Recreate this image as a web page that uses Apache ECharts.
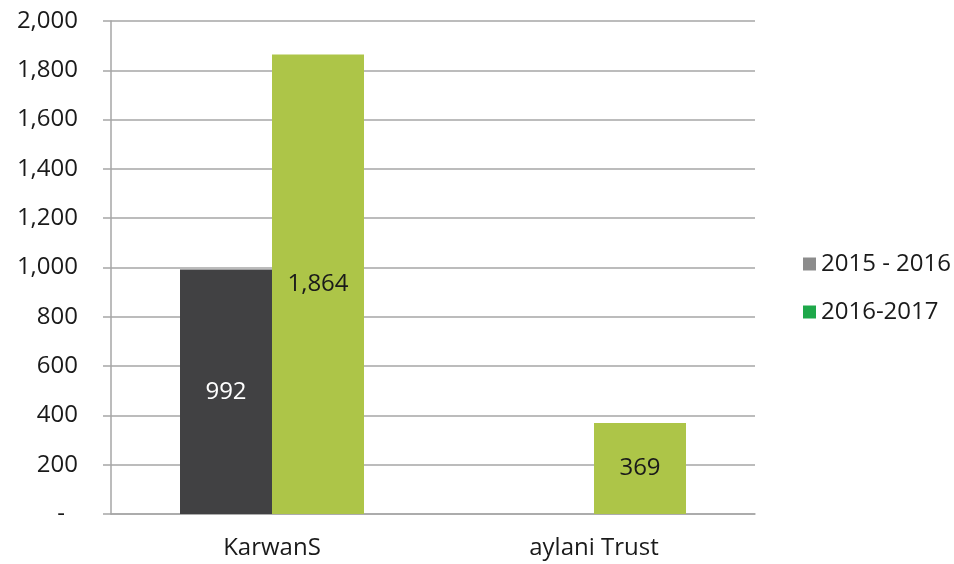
<!DOCTYPE html>
<html>
<head>
<meta charset="utf-8">
<script src="https://cdn.jsdelivr.net/npm/echarts@6/dist/echarts.min.js"></script>
<style>
  html, body { margin: 0; padding: 0; background: #fff; }
  #chart { width: 954px; height: 564px; }
</style>
</head>
<body>
<div id="chart"></div>
<script>
const categories = ['KarwanS', 'aylani Trust']
const seriesNames = ['2015 - 2016', '2016-2017']
const values2015 = [992, null]
const values2016 = [1864, 369]

const font = '"Open Sans", "Noto Sans", sans-serif'
const fmt = (v) => (v === 0 ? '-' : v.toLocaleString('en-US'))

const myChart = echarts.init(document.getElementById('chart'))
const option = {
  animation: false,
  textStyle: { fontFamily: font },
  grid: { left: 111, right: 199, top: 21, bottom: 50 },
  legend: {
    orient: 'vertical',
    left: 798,
    top: 247,
    itemWidth: 13,
    itemHeight: 13,
    itemGap: 24,
    textStyle: { fontSize: 24, color: '#1a1a1a', fontFamily: font },
    data: [
      { name: seriesNames[0], icon: 'rect', itemStyle: { color: '#8c8c8c' } },
      { name: seriesNames[1], icon: 'rect', itemStyle: { color: '#1ea84a' } }
    ]
  },
  xAxis: {
    type: 'category',
    data: categories,
    axisLine: { lineStyle: { color: '#a6a6a6', width: 1.5 } },
    axisTick: { length: 8, lineStyle: { color: '#a6a6a6', width: 1.5 } },
    axisLabel: { fontSize: 24, color: '#1a1a1a', margin: 22 }
  },
  yAxis: {
    type: 'value',
    min: 0,
    max: 2000,
    interval: 200,
    axisLine: { show: true, lineStyle: { color: '#a6a6a6', width: 1.5 } },
    axisTick: { show: true, length: 8, lineStyle: { color: '#a6a6a6', width: 1.5 } },
    splitLine: { lineStyle: { color: '#a6a6a6', width: 1.5 } },
    axisLabel: {
      fontSize: 24,
      color: '#1a1a1a',
      margin: 33,
      formatter: (v) => (v === 0 ? '{dash|-}' : fmt(v)),
      rich: { dash: { fontSize: 24, color: '#1a1a1a', padding: [0, 13, 0, 0] } }
    }
  },
  series: [
    {
      name: seriesNames[0],
      type: 'bar',
      data: values2015,
      barWidth: 92,
      barGap: '0%',
      itemStyle: { color: '#414143' },
      label: { show: true, position: 'inside', fontSize: 24, color: '#ffffff', formatter: (p) => fmt(p.value) }
    },
    {
      name: seriesNames[1],
      type: 'bar',
      data: values2016,
      barWidth: 92,
      barGap: '0%',
      itemStyle: { color: '#adc548' },
      label: { show: true, position: 'inside', fontSize: 24, color: '#1a1a1a', formatter: (p) => fmt(p.value) }
    }
  ]
}
myChart.setOption(option)
</script>
</body>
</html>
